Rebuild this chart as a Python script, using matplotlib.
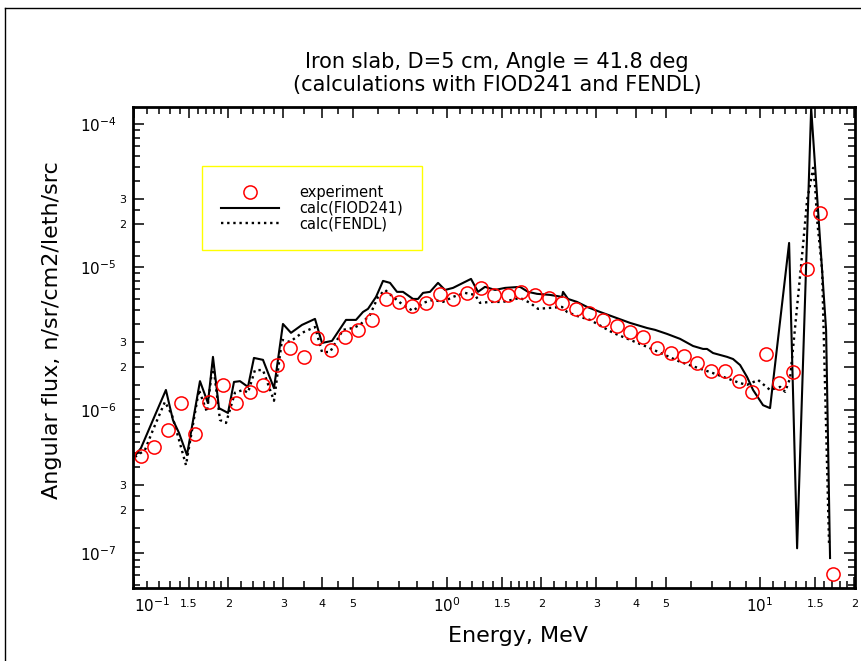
import numpy as np
import matplotlib.pyplot as plt
from matplotlib.lines import Line2D
from matplotlib.ticker import FixedLocator, NullFormatter

# experiment points (energy in MeV, flux)
e_exp = [0.1053, 0.1159, 0.1284, 0.1413, 0.1566, 0.1736, 0.1925, 0.2118, 0.2348, 0.2583,
         0.2863, 0.3150, 0.3492, 0.3843, 0.4260, 0.4722, 0.5196, 0.5760, 0.6386, 0.7024,
         0.7729, 0.8568, 0.9497, 1.045, 1.158, 1.284, 1.413, 1.566, 1.724, 1.911,
         2.118, 2.330, 2.583, 2.842, 3.150, 3.492, 3.843, 4.228, 4.687, 5.196,
         5.718, 6.292, 6.975, 7.732, 8.569, 9.428, 10.45, 11.50, 12.75, 14.13,
         15.55, 17.11]
f_exp = [4.77e-7, 5.51e-7, 7.25e-7, 1.12e-6, 6.80e-7, 1.14e-6, 1.50e-6, 1.12e-6, 1.34e-6, 1.50e-6,
         2.06e-6, 2.71e-6, 2.35e-6, 3.19e-6, 2.63e-6, 3.24e-6, 3.63e-6, 4.26e-6, 5.97e-6, 5.69e-6,
         5.34e-6, 5.60e-6, 6.48e-6, 5.97e-6, 6.58e-6, 7.13e-6, 6.37e-6, 6.37e-6, 6.69e-6, 6.37e-6,
         6.07e-6, 5.60e-6, 5.09e-6, 4.77e-6, 4.26e-6, 3.87e-6, 3.51e-6, 3.24e-6, 2.71e-6, 2.50e-6,
         2.38e-6, 2.13e-6, 1.87e-6, 1.87e-6, 1.59e-6, 1.34e-6, 2.46e-6, 1.54e-6, 1.84e-6, 9.68e-6,
         2.38e-5, 7.13e-8]

# calc(FIOD241)
e_fiod = [0.1007, 0.1053, 0.1150, 0.1265, 0.1332, 0.1393, 0.1477, 0.1625, 0.1723, 0.1788,
          0.1869, 0.1997, 0.2087, 0.2181, 0.2313, 0.2417, 0.2583, 0.2801, 0.2992, 0.3174,
          0.3441, 0.3787, 0.3987, 0.4292, 0.4757, 0.5120, 0.5390, 0.5593, 0.5933, 0.6246,
          0.6576, 0.6921, 0.7234, 0.7786, 0.8078, 0.8381, 0.8826, 0.9359, 0.9853, 1.045,
          1.125, 1.193, 1.256, 1.322, 1.424, 1.532, 1.711, 1.815, 1.939, 2.134,
          2.330, 2.347, 2.435, 2.602, 2.801, 3.083, 3.843, 4.355, 4.618, 5.045,
          5.552, 6.107, 6.574, 6.770, 7.075, 7.844, 8.197, 8.633, 9.088, 9.497,
          10.22, 10.76, 12.38, 13.13, 14.56, 16.25, 16.73]
f_fiod = [4.77e-7, 5.42e-7, 8.51e-7, 1.38e-6, 8.51e-7, 6.91e-7, 4.84e-7, 1.59e-6, 1.12e-6, 2.35e-6,
          1.03e-6, 9.53e-7, 1.57e-6, 1.59e-6, 1.45e-6, 2.31e-6, 2.24e-6, 1.42e-6, 3.99e-6, 3.46e-6,
          3.93e-6, 4.33e-6, 2.94e-6, 3.04e-6, 4.26e-6, 4.26e-6, 4.84e-6, 5.09e-6, 6.17e-6, 7.98e-6,
          7.73e-6, 6.69e-6, 6.69e-6, 5.97e-6, 5.97e-6, 6.58e-6, 6.69e-6, 7.73e-6, 6.90e-6, 7.13e-6,
          7.73e-6, 8.24e-6, 6.69e-6, 7.25e-6, 6.90e-6, 7.13e-6, 7.25e-6, 6.69e-6, 6.48e-6, 6.37e-6,
          6.17e-6, 6.69e-6, 5.97e-6, 5.69e-6, 5.25e-6, 4.84e-6, 4.06e-6, 3.74e-6, 3.63e-6, 3.40e-6,
          3.14e-6, 2.80e-6, 2.67e-6, 2.67e-6, 2.50e-6, 2.35e-6, 2.27e-6, 2.06e-6, 1.70e-6, 1.38e-6,
          1.08e-6, 1.03e-6, 1.47e-5, 1.08e-7, 1.29e-4, 3.63e-6, 9.23e-8]

# calc(FENDL)
e_fendl = [0.1007, 0.1084, 0.1150, 0.1256, 0.1322, 0.1393, 0.1466, 0.1613, 0.1711, 0.1788,
           0.1883, 0.1968, 0.2102, 0.2229, 0.2313, 0.2435, 0.2583, 0.2801, 0.2970, 0.3150,
           0.3441, 0.3787, 0.3987, 0.4229, 0.4653, 0.5010, 0.5272, 0.5675, 0.6021, 0.6339,
           0.6724, 0.7234, 0.7786, 0.8381, 0.9022, 0.9710, 1.045, 1.141, 1.229, 1.275,
           1.373, 1.510, 1.711, 1.842, 1.953, 2.134, 2.330, 2.418, 2.602, 2.863,
           3.392, 4.355, 5.552, 7.075, 8.633, 9.088, 9.853, 10.76, 11.59, 12.02,
           12.47, 12.84, 13.72, 14.13, 14.45, 14.77, 14.99, 15.21, 15.78, 16.61]
f_fendl = [4.69e-7, 5.25e-7, 7.25e-7, 1.14e-6, 9.23e-7, 6.17e-7, 4.12e-7, 1.38e-6, 9.68e-7, 2.13e-6,
           8.51e-7, 8.11e-7, 1.32e-6, 1.38e-6, 1.32e-6, 1.90e-6, 1.90e-6, 1.16e-6, 3.09e-6, 2.99e-6,
           3.46e-6, 3.80e-6, 2.54e-6, 2.54e-6, 3.63e-6, 3.74e-6, 3.93e-6, 4.62e-6, 6.17e-6, 6.90e-6,
           6.17e-6, 5.42e-6, 4.92e-6, 5.60e-6, 5.88e-6, 5.69e-6, 6.17e-6, 6.58e-6, 6.37e-6, 5.60e-6,
           5.69e-6, 5.69e-6, 6.07e-6, 5.60e-6, 5.09e-6, 5.17e-6, 5.25e-6, 4.84e-6, 4.54e-6, 4.26e-6,
           3.46e-6, 2.76e-6, 2.17e-6, 1.81e-6, 1.54e-6, 1.50e-6, 1.62e-6, 1.38e-6, 1.45e-6, 1.34e-6,
           1.67e-6, 3.19e-6, 1.43e-5, 2.94e-5, 3.74e-5, 4.92e-5, 3.63e-5, 2.13e-5, 9.53e-6, 1.14e-7]

x_ticks = [0.1, 0.15, 0.2, 0.3, 0.4, 0.5, 1, 1.5, 2, 3, 4, 5, 10, 15, 20]
x_labels = ['$10^{-1}$', '1.5', '2', '3', '4', '5', '$10^{0}$', '1.5', '2', '3', '4', '5',
            '$10^{1}$', '1.5', '2']
y_ticks = [1e-7, 2e-7, 3e-7, 1e-6, 2e-6, 3e-6, 1e-5, 2e-5, 3e-5, 1e-4]
y_labels = ['$10^{-7}$', '2', '3', '$10^{-6}$', '2', '3', '$10^{-5}$', '2', '3', '$10^{-4}$']

W, H = 861, 661
fig = plt.figure(figsize=(W / 100, H / 100), dpi=100)
ax = fig.add_axes([133 / W, 1 - 588 / H, (855 - 133) / W, (588 - 107) / H])

l_fiod, = ax.plot(e_fiod, f_fiod, color='black', lw=1.5)
l_fendl, = ax.plot(e_fendl, f_fendl, color='black', lw=1.7, linestyle=(0, (1, 1.6)))
l_exp, = ax.plot(e_exp, f_exp, linestyle='none', marker='o', mfc='none', mec='red',
                 ms=9.5, mew=1.1)

ax.set_xscale('log')
ax.set_yscale('log')
ax.set_xlim(0.0993, 20.1)
ax.set_ylim(5.7e-8, 1.31e-4)

ax.set_xticks(x_ticks, x_labels)
ax.set_yticks(y_ticks, y_labels)
x_minor = []
for d in [0.1, 1, 10]:
    for m in [1.1, 1.2, 1.3, 1.4, 1.6, 1.7, 1.8, 1.9, 2.2, 2.4, 2.6, 2.8, 3.5, 4.5, 6, 7, 8, 9]:
        if d * m < 20:
            x_minor.append(d * m)
y_minor = []
for d in [1e-8, 1e-7, 1e-6, 1e-5]:
    for m in [1.2, 1.5, 2.5, 4, 5, 6, 7, 8, 9]:
        if 5.7e-8 < d * m < 1.31e-4:
            y_minor.append(d * m)
ax.xaxis.set_minor_locator(FixedLocator(x_minor))
ax.yaxis.set_minor_locator(FixedLocator(y_minor))
ax.xaxis.set_minor_formatter(NullFormatter())
ax.yaxis.set_minor_formatter(NullFormatter())

ax.tick_params(which='both', direction='in', top=True, right=True, width=1.1)
ax.tick_params(which='major', length=8)
ax.tick_params(which='minor', length=5)
for s in ax.spines.values():
    s.set_linewidth(2)

for t, lab in zip(ax.xaxis.get_major_ticks(), x_labels):
    if lab.startswith('$'):
        t.label1.set_fontsize(11)
        t.set_pad(6)
    else:
        t.label1.set_fontsize(8)
        t.set_pad(8)
ax.xaxis.get_major_ticks()[0].label1.set_horizontalalignment('left')
for t, lab in zip(ax.yaxis.get_major_ticks(), y_labels):
    if lab.startswith('$'):
        t.label1.set_fontsize(11)
        t.set_pad(12)
    else:
        t.label1.set_fontsize(8)
        t.set_pad(5)

leg = ax.legend([l_exp, l_fiod, l_fendl], ['experiment', 'calc(FIOD241)', 'calc(FENDL)'],
                loc='upper left', bbox_to_anchor=(202 / W, 1 - 166 / H),
                bbox_transform=fig.transFigure, borderaxespad=0, fontsize=10.5,
                handlelength=4.0, handletextpad=1.4, labelspacing=0.05, borderpad=1.3,
                numpoints=1, fancybox=False, framealpha=1)
leg.get_frame().set_edgecolor('#ffff00')
leg.get_frame().set_linewidth(1.0)

fig.text(497 / W, 1 - 62 / H, 'Iron slab, D=5 cm, Angle = 41.8 deg',
         ha='center', va='center', fontsize=15)
fig.text(497 / W, 1 - 85 / H, '(calculations with FIOD241 and FENDL)',
         ha='center', va='center', fontsize=15)
fig.text(52 / W, 1 - 330 / H, 'Angular flux, n/sr/cm2/leth/src', rotation=90,
         ha='center', va='center', fontsize=16)
fig.text(518 / W, 1 - 636 / H, 'Energy, MeV', ha='center', va='center', fontsize=16)

# page border
fig.add_artist(Line2D([5 / W, 1], [1 - 8 / H, 1 - 8 / H], transform=fig.transFigure,
                      color='black', lw=1))
fig.add_artist(Line2D([5 / W, 5 / W], [1 - 8 / H, 0], transform=fig.transFigure,
                      color='black', lw=1))

fig.savefig('out.png', dpi=100)
